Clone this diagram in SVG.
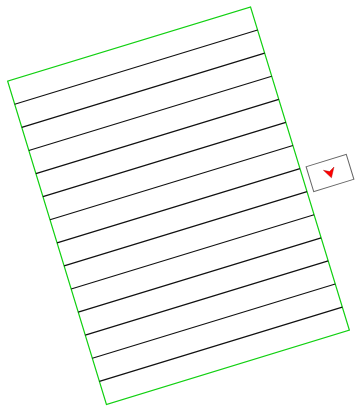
<svg xmlns="http://www.w3.org/2000/svg" width="355" height="407" viewBox="0 0 355 407">
<style>
.frame{fill:none;stroke:#11d011;stroke-width:1.2}
.row{stroke:#111;stroke-width:1.2}
.box{fill:#fff;stroke:#666;stroke-width:1}
.head{fill:#f00;stroke:#a00;stroke-width:0.4}
</style>
<rect width="355" height="407" fill="#fff"/>
<g id="sheet" transform="translate(178.5,205.7) rotate(-17)">
<rect class="frame" x="-127" y="-169" width="254" height="338"/>
<g id="rows">
<line class="row" x1="-127" y1="-144.86" x2="127" y2="-144.86"/>
<line class="row" x1="-127" y1="-120.71" x2="127" y2="-120.71"/>
<line class="row" x1="-127" y1="-96.57" x2="127" y2="-96.57"/>
<line class="row" x1="-127" y1="-72.43" x2="127" y2="-72.43"/>
<line class="row" x1="-127" y1="-48.29" x2="127" y2="-48.29"/>
<line class="row" x1="-127" y1="-24.14" x2="127" y2="-24.14"/>
<line class="row" x1="-127" y1="0" x2="127" y2="0"/>
<line class="row" x1="-127" y1="24.14" x2="127" y2="24.14"/>
<line class="row" x1="-127" y1="48.29" x2="127" y2="48.29"/>
<line class="row" x1="-127" y1="72.43" x2="127" y2="72.43"/>
<line class="row" x1="-127" y1="96.57" x2="127" y2="96.57"/>
<line class="row" x1="-127" y1="120.71" x2="127" y2="120.71"/>
<line class="row" x1="-127" y1="144.86" x2="127" y2="144.86"/>
</g>
</g>
<g id="handle" transform="translate(330,173) rotate(-17)">
<rect class="box" x="-21" y="-13" width="42" height="26"/>
<path class="head" d="M-5.5,-4.5 L0,5 L5.5,-4.5 L0,-1.5 Z"/>
</g>
</svg>
